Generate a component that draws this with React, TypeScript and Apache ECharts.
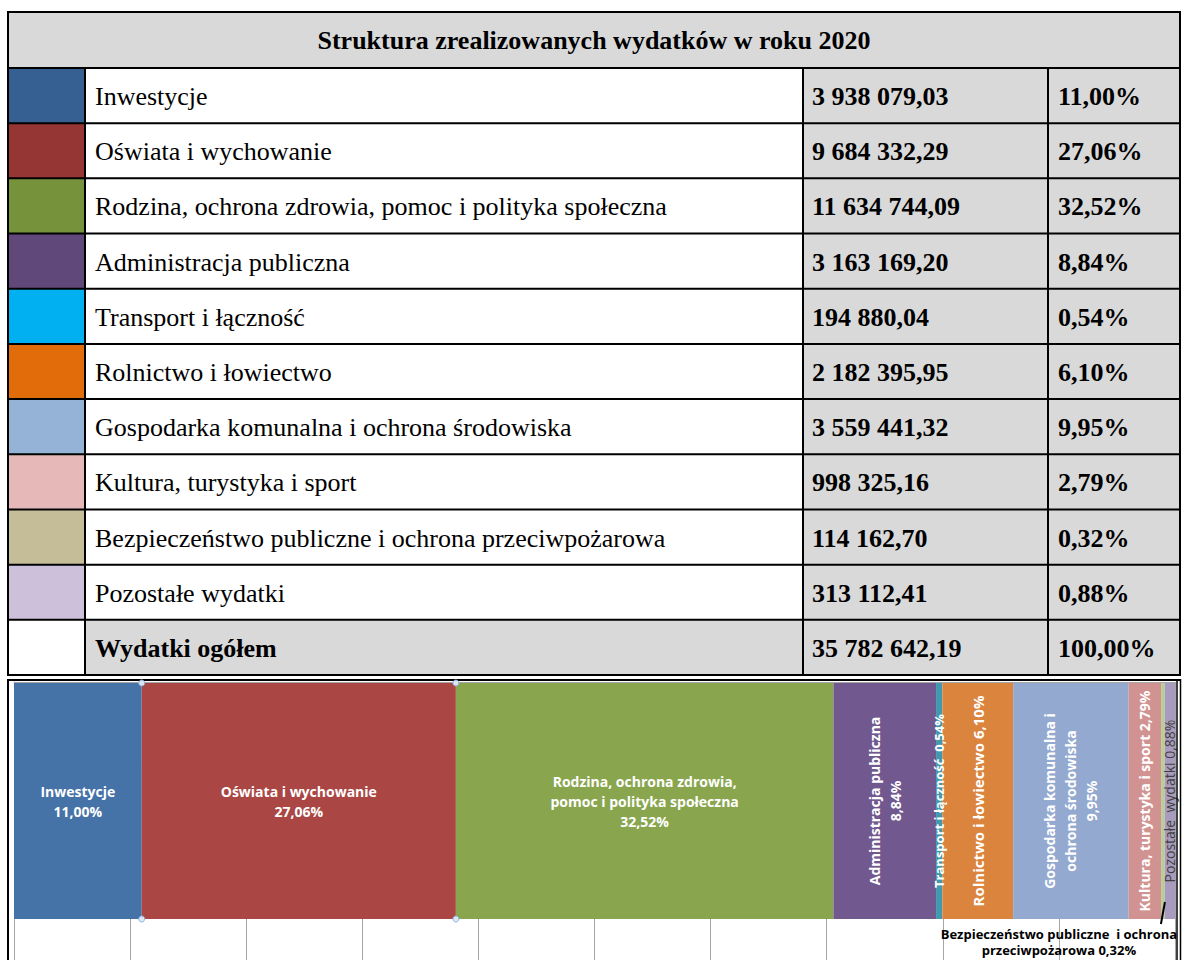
import React, { useEffect, useRef } from "react";
import * as echarts from "echarts";

const title = "Struktura zrealizowanych wydatków w roku 2020";
const categories = [
  "Inwestycje",
  "Oświata i wychowanie",
  "Rodzina, ochrona zdrowia, pomoc i polityka społeczna",
  "Administracja publiczna",
  "Transport i łączność",
  "Rolnictwo i łowiectwo",
  "Gospodarka komunalna i ochrona środowiska",
  "Kultura, turystyka i sport",
  "Bezpieczeństwo publiczne i ochrona przeciwpożarowa",
  "Pozostałe wydatki",
];
const amounts = [
  "3 938 079,03",
  "9 684 332,29",
  "11 634 744,09",
  "3 163 169,20",
  "194 880,04",
  "2 182 395,95",
  "3 559 441,32",
  "998 325,16",
  "114 162,70",
  "313 112,41",
];
const percents = [11.0, 27.06, 32.52, 8.84, 0.54, 6.1, 9.95, 2.79, 0.32, 0.88];
const totalLabel = "Wydatki ogółem";
const totalAmount = "35 782 642,19";
const totalPercent = 100.0;
const barLabels = [
  "Inwestycje\n11,00%",
  "Oświata i wychowanie\n27,06%",
  "Rodzina, ochrona zdrowia,\npomoc i polityka społeczna\n32,52%",
  "Administracja publiczna\n8,84%",
  "Transport i łączność  0,54%",
  "Rolnictwo i łowiectwo 6,10%",
  "Gospodarka komunalna i\nochrona środowiska\n9,95%",
  "Kultura, turystyka i sport 2,79%",
  "Bezpieczeństwo publiczne  i ochrona\nprzeciwpożarowa 0,32%",
  "Pozostałe  wydatki 0,88%",
];
const swatchColors = [
  "#366092", "#963634", "#76933C", "#60497A", "#00B0F0",
  "#E26B0A", "#95B3D7", "#E6B8B7", "#C4BD97", "#CCC0DA",
];
const barColors = [
  "#4572A7", "#AA4643", "#89A54E", "#71588F", "#4198AF",
  "#DB843D", "#93A9CF", "#D19392", "#B9CD96", "#A99BBD",
];

const fmtPct = (v: number) => v.toFixed(2).replace(".", ",") + "%";

const SERIF = "'Liberation Serif', 'Times New Roman', serif";
const SANS = "'Open Sans', 'Noto Sans', sans-serif";

function tableGraphics() {
  const L = 8, R = 1180, T = 12, HB = 68, B = 675;
  const cols = [8, 85, 803, 1048, 1180];
  const nRows = categories.length + 1;
  const rowH = (B - HB) / nRows;
  const els: any[] = [];
  const gray = "#D9D9D9";
  els.push({ type: "rect", id: "hdr", shape: { x: L, y: T, width: R - L, height: HB - T }, style: { fill: gray } });
  els.push({
    type: "text", id: "ttl", x: (L + R) / 2, y: (T + HB) / 2,
    style: { text: title, font: `bold 26px ${SERIF}`, fill: "#000", align: "center", verticalAlign: "middle" },
  });
  for (let i = 0; i < nRows; i++) {
    const isTotal = i === categories.length;
    const y0 = HB + i * rowH;
    const cy = y0 + rowH / 2 + 1;
    const name = isTotal ? totalLabel : categories[i];
    const amt = isTotal ? totalAmount : amounts[i];
    const pct = isTotal ? fmtPct(totalPercent) : fmtPct(percents[i]);
    els.push({ type: "rect", id: `sw${i}`, shape: { x: cols[0], y: y0, width: cols[1] - cols[0], height: rowH }, style: { fill: isTotal ? "#fff" : swatchColors[i] } });
    els.push({ type: "rect", id: `cc${i}`, shape: { x: cols[1], y: y0, width: cols[2] - cols[1], height: rowH }, style: { fill: isTotal ? gray : "#fff" } });
    els.push({ type: "rect", id: `ac${i}`, shape: { x: cols[2], y: y0, width: cols[3] - cols[2], height: rowH }, style: { fill: gray } });
    els.push({ type: "rect", id: `pc${i}`, shape: { x: cols[3], y: y0, width: cols[4] - cols[3], height: rowH }, style: { fill: gray } });
    els.push({ type: "text", id: `nt${i}`, x: cols[1] + 10, y: cy, style: { text: name, font: `${isTotal ? "bold " : ""}26px ${SERIF}`, fill: "#000", align: "left", verticalAlign: "middle" } });
    els.push({ type: "text", id: `at${i}`, x: cols[2] + 9, y: cy, style: { text: amt, font: `bold 26px ${SERIF}`, fill: "#000", align: "left", verticalAlign: "middle" } });
    els.push({ type: "text", id: `pt${i}`, x: cols[3] + 10, y: cy, style: { text: pct, font: `bold 26px ${SERIF}`, fill: "#000", align: "left", verticalAlign: "middle" } });
  }
  const line = (id: string, x1: number, y1: number, x2: number, y2: number, w = 2, c = "#000") =>
    els.push({ type: "line", id, shape: { x1, y1, x2, y2 }, style: { stroke: c, lineWidth: w }, z: 10 });
  line("hT", L - 1, T, R + 1, T);
  for (let i = 0; i <= nRows; i++) line(`h${i}`, L - 1, HB + i * rowH, R + 1, HB + i * rowH);
  line("vL", L, T, L, B);
  line("vR", R, T, R, B);
  for (let c = 1; c <= 3; c++) line(`v${c}`, cols[c], HB, cols[c], B);
  // chart frame
  line("fT", 7, 680, 1181, 680);
  line("fL", 8, 679, 8, 965);
  line("fR1", 1177, 679, 1177, 965, 1.5);
  line("fR2", 1180.5, 679, 1180.5, 965, 1.5);
  return els;
}

export default function App() {
  const ref = useRef<HTMLDivElement>(null);
  useEffect(() => {
    if (!ref.current) return;
    const chart = echarts.init(ref.current, undefined, { renderer: "svg" });
    const gridLine = "#A6A6A6";
    const series = percents.map((v, i) => {
      let label: any = {
        show: true, position: "inside", formatter: barLabels[i], color: "#fff",
        fontFamily: SANS, fontWeight: "bold", fontSize: 14, lineHeight: 20,
      };
      if (i >= 3 && i <= 7) label = { ...label, rotate: 90, lineHeight: 21 };
      if (i === 5) label = { ...label, fontSize: 15 };
      if (i === 4) label = { ...label, fontSize: 13 };
      if (i === 8)
        label = {
          show: true, position: "bottom", distance: 7, offset: [-104, 0], formatter: barLabels[i],
          color: "#000", fontFamily: SANS, fontWeight: "bold", fontSize: 13, lineHeight: 16,
        };
      if (i === 9) label = { ...label, rotate: 90, color: "#404040", fontWeight: "normal", fontSize: 14 };
      return {
        type: "bar", name: categories[i], stack: "total", xAxisIndex: 0, yAxisIndex: 0,
        data: [v], barWidth: 236, itemStyle: { color: barColors[i] }, label,
      };
    });
    chart.setOption({
      animation: false,
      backgroundColor: "#fff",
      grid: [
        { left: 14, right: 10, top: 682, height: 238 },
        { left: 14, right: 10, top: 920, bottom: -20 },
      ],
      xAxis: [
        {
          gridIndex: 0, type: "value", min: 0, max: 100, interval: 10, position: "top",
          axisLine: { show: true, lineStyle: { color: gridLine } }, axisTick: { show: false }, axisLabel: { show: false },
          splitLine: { show: true, lineStyle: { color: gridLine, width: 1 } },
        },
        {
          gridIndex: 1, type: "value", min: 0, max: 100, interval: 10,
          axisLine: { show: false }, axisTick: { show: false }, axisLabel: { show: false },
          splitLine: { show: true, lineStyle: { color: gridLine, width: 1 } },
        },
      ],
      yAxis: [
        {
          gridIndex: 0, type: "category", data: ["2020"],
          axisLine: { show: true, lineStyle: { color: gridLine } }, axisTick: { show: false }, axisLabel: { show: false },
        },
        {
          gridIndex: 1, type: "category", data: [""],
          axisLine: { show: true, lineStyle: { color: gridLine } }, axisTick: { show: false }, axisLabel: { show: false },
        },
      ],
      series,
    });
    // derived overlay positions (leader line & selection handles) from the axes
    const cum: number[] = [];
    percents.reduce((acc, v) => { cum.push(acc); return acc + v; }, 0);
    const px = (val: number) => chart.convertToPixel({ xAxisIndex: 0 }, val) as number;
    const barTop = 683, barBot = 919;
    const bIdx = 8;
    const bx = px(cum[bIdx] + percents[bIdx] / 2);
    const extra: any[] = [
      { type: "line", id: "leader", shape: { x1: bx + 2, y1: 902, x2: bx - 2, y2: 924 }, style: { stroke: "#000", lineWidth: 2 }, z: 20 },
    ];
    const hx = [px(cum[1]), px(cum[1] + percents[1])];
    let k = 0;
    for (const x of hx)
      for (const y of [barTop, barBot])
        extra.push({ type: "circle", id: `hd${k++}`, shape: { cx: x, cy: y, r: 3 }, style: { fill: "#DCE6F2", stroke: "#8DB3E2", lineWidth: 1 }, z: 20 });
    chart.setOption({ graphic: [...tableGraphics(), ...extra] });
    return () => chart.dispose();
  }, []);
  return <div ref={ref} style={{ position: "absolute", left: 0, top: 0, width: 1185, height: 960 }} />;
}
